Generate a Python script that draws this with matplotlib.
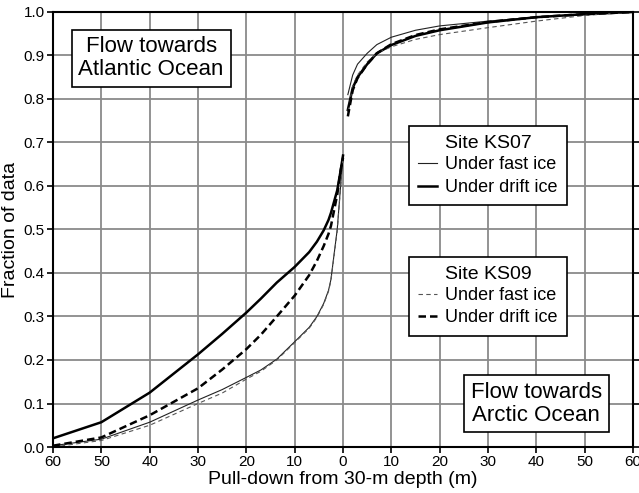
import numpy as np
import matplotlib.pyplot as plt

plt.rcParams['font.family'] = ['Liberation Sans', 'DejaVu Sans']

# Pull-down (m); negative = flow towards Atlantic, positive = flow towards Arctic
x_left = [-60, -50, -40, -30, -25, -20, -17, -13.7, -10, -7, -5.4, -4, -3, -2.5, -1.2, -0.5, 0]
ks07_drift_left = [0.02, 0.057, 0.125, 0.213, 0.26, 0.309, 0.341, 0.378, 0.414, 0.448, 0.472, 0.498, 0.522, 0.538, 0.59, 0.635, 0.67]
ks09_drift_left = [0.003, 0.022, 0.073, 0.135, 0.178, 0.225, 0.258, 0.3, 0.348, 0.395, 0.428, 0.462, 0.49, 0.508, 0.58, 0.635, 0.665]
ks07_fast_left = [0.003, 0.018, 0.057, 0.108, 0.132, 0.16, 0.177, 0.202, 0.242, 0.275, 0.3, 0.33, 0.36, 0.385, 0.5, 0.6, 0.67]
ks09_fast_left = [0.0, 0.015, 0.05, 0.1, 0.124, 0.156, 0.174, 0.2, 0.24, 0.273, 0.298, 0.328, 0.358, 0.383, 0.497, 0.597, 0.665]

x_right = [1, 2, 3, 5, 7, 10, 15, 20, 30, 40, 50, 60]
ks07_fast_right = [0.81, 0.855, 0.88, 0.905, 0.925, 0.942, 0.958, 0.968, 0.979, 0.988, 0.995, 1.0]
ks07_drift_right = [0.775, 0.825, 0.85, 0.88, 0.905, 0.924, 0.945, 0.958, 0.976, 0.988, 0.995, 1.0]
ks09_drift_right = [0.76, 0.82, 0.848, 0.88, 0.905, 0.926, 0.947, 0.96, 0.977, 0.988, 0.995, 1.0]
ks09_fast_right = [0.77, 0.83, 0.855, 0.885, 0.905, 0.92, 0.937, 0.948, 0.964, 0.979, 0.992, 1.0]

xticks = np.arange(-60, 61, 10)
xtick_labels = [str(abs(v)) for v in xticks]
yticks = np.arange(0, 1.01, 0.1)

fig = plt.figure(figsize=(6.39, 4.93), dpi=100)
ax = fig.add_axes([0.083, 0.0933, 0.9076, 0.8824])

thin = 0.8
thick = 1.8
dash_thin = (0, (4, 3))
dash_thick = (0, (3, 1.6))

l1, = ax.plot(x_left, ks07_fast_left, color='#222222', lw=thin, ls='-')
ax.plot(x_right, ks07_fast_right, color='#222222', lw=thin, ls='-')
l2, = ax.plot(x_left, ks07_drift_left, color='black', lw=thick, ls='-')
ax.plot(x_right, ks07_drift_right, color='black', lw=thick, ls='-')
l3, = ax.plot(x_left, ks09_fast_left, color='#555555', lw=thin, ls=dash_thin)
ax.plot(x_right, ks09_fast_right, color='#555555', lw=thin, ls=dash_thin)
l4, = ax.plot(x_left, ks09_drift_left, color='black', lw=thick, ls=dash_thick)
ax.plot(x_right, ks09_drift_right, color='black', lw=thick, ls=dash_thick)

ax.set_xlim(-60, 60)
ax.set_ylim(0, 1.0)
ax.set_xticks(xticks)
ax.set_xticklabels(xtick_labels)
ax.set_yticks(yticks)
ax.set_yticklabels([f'{v:.1f}' for v in yticks])
ax.tick_params(labelsize=11, direction='out', length=4, width=1.2, right=True, pad=2)
ax.grid(True, color='#8a8a8a', lw=1.3)
ax.set_axisbelow(True)
for s in ax.spines.values():
    s.set_linewidth(1.5)

ax.set_xlabel('Pull-down from 30-m depth (m)', fontsize=14, labelpad=1)
ax.set_ylabel('Fraction of data', fontsize=14, labelpad=3)

box = dict(boxstyle='square,pad=0.3', fc='white', ec='black', lw=1.2)
ax.text(-39.7, 0.894, 'Flow towards\nAtlantic Ocean', fontsize=16, ha='center', va='center',
        bbox=box, linespacing=1.1)
ax.text(40.0, 0.099, 'Flow towards\nArctic Ocean', fontsize=16, ha='center', va='center',
        bbox=box, linespacing=1.1)

leg_kw = dict(fontsize=13, title_fontsize=14, fancybox=False, edgecolor='black',
              framealpha=1, handlelength=1.05, handletextpad=0.45, borderpad=0.5,
              labelspacing=0.3, borderaxespad=0)
leg1 = ax.legend([l1, l2], ['Under fast ice', 'Under drift ice'], title='Site KS07',
                 loc='center', bbox_to_anchor=(0.7498, 0.647), **leg_kw)
leg1.get_frame().set_linewidth(1.2)
leg1._legend_box.sep = 3
ax.add_artist(leg1)
leg2 = ax.legend([l3, l4], ['Under fast ice', 'Under drift ice'], title='Site KS09',
                 loc='center', bbox_to_anchor=(0.7498, 0.3467), **leg_kw)
leg2.get_frame().set_linewidth(1.2)
leg2._legend_box.sep = 3

fig.savefig('out.png', dpi=100)
